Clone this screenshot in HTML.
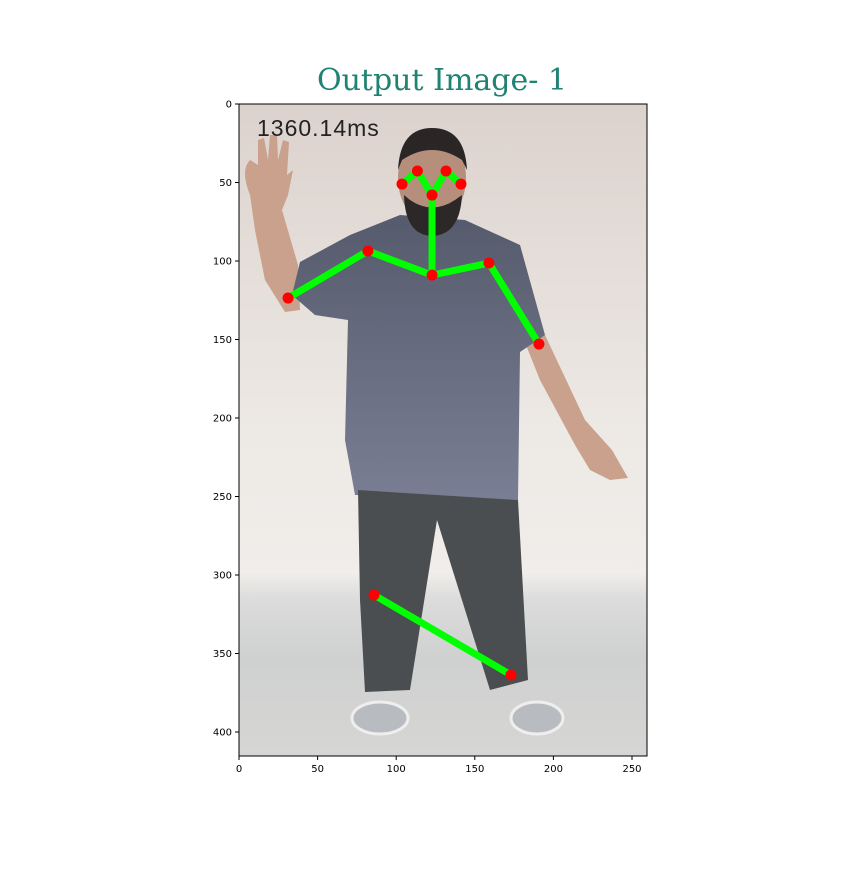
<!DOCTYPE html>
<html><head><meta charset="utf-8"><style>
html,body{margin:0;padding:0;background:#fff;}
svg text{font-family:"DejaVu Sans","Liberation Sans",sans-serif;}
</style></head><body>
<svg id="c" width="864" height="864" viewBox="0 0 864 864" xmlns="http://www.w3.org/2000/svg">
<defs>
<linearGradient id="wall" x1="0" y1="0" x2="0" y2="1">
<stop offset="0" stop-color="#dcd2cd"/><stop offset="0.5" stop-color="#ede9e5"/><stop offset="0.72" stop-color="#f0edea"/><stop offset="0.76" stop-color="#dcdcdc"/><stop offset="0.85" stop-color="#cfd0d0"/><stop offset="1" stop-color="#d6d6d4"/>
</linearGradient>
<linearGradient id="shirt" x1="0" y1="0" x2="0" y2="1">
<stop offset="0" stop-color="#555b6c"/><stop offset="1" stop-color="#7a7e94"/>
</linearGradient>
<clipPath id="clip"><rect x="239" y="104" width="408" height="652"/></clipPath>
</defs>
<text x="442" y="90" text-anchor="middle" font-size="30" fill="#1f8272" style="font-family:'DejaVu Serif','Liberation Serif',serif">Output Image- 1</text>
<g clip-path="url(#clip)">
<rect x="239" y="104" width="408" height="652" fill="url(#wall)"/>
<path d="M250,195 Q240,170 250,160 L258,165 L258,140 L264,138 L268,160 L270,135 L277,135 L278,160 L283,140 L289,142 L287,175 L293,170 L288,195 L282,210 L298,265 L300,310 L285,312 L265,280 L255,230 Z" fill="#c9a18c"/>
<polygon points="520,330 545,335 585,420 612,450 628,478 610,480 590,470 575,445 540,380" fill="#c9a18c"/>
<polygon points="300,262 350,235 400,215 465,220 520,245 545,335 520,352 518,500 355,495 345,440 348,320 315,315 292,295" fill="url(#shirt)"/>
<polygon points="358,490 518,500 528,680 490,690 437,520 410,690 365,692 360,600" fill="#4b4e50"/>
<ellipse cx="432" cy="178" rx="34" ry="46" fill="#b58f7c"/>
<path d="M398,170 Q400,128 432,128 Q465,128 467,170 L462,160 Q432,140 402,160 Z" fill="#2a2626"/>
<path d="M404,195 Q405,235 432,236 Q460,235 462,195 L455,200 Q432,215 410,200 Z" fill="#2c2828"/>
<ellipse cx="380" cy="718" rx="28" ry="16" fill="#b8bcc0" stroke="#eee" stroke-width="3"/>
<ellipse cx="537" cy="718" rx="26" ry="16" fill="#b8bcc0" stroke="#eee" stroke-width="3"/>
<text x="257" y="136" font-size="23" fill="#222" style="font-family:'Liberation Sans',sans-serif;font-weight:300;letter-spacing:1px">1360.14ms</text>
<g id="skel"></g>
</g>
<rect x="239" y="104" width="408" height="652" fill="none" stroke="#000" stroke-width="1"/>
<g id="ax"></g>
</svg>
<script>
const xTicks=[0,50,100,150,200,250];
const yTicks=[0,50,100,150,200,250,300,350,400];
const pointNames=["nose","eye-r","eye-l","ear-r","ear-l","neck","shoulder-r","elbow-r","shoulder-l","elbow-l","hip","knee"];
const pointX=[122.8,113.5,131.7,103.7,141.2,122.8,82,31.2,159,190.8,85.9,173];
const pointY=[58,42.7,42.7,51,51,109,93.6,123.6,101.3,152.9,312.7,363.7];
const edgeFrom=[0,0,1,2,0,5,6,5,8,10];
const edgeTo=[1,2,3,4,5,6,7,8,9,11];
const X=v=>239+v*1.572, Y=v=>104+v*1.57;
const NS="http://www.w3.org/2000/svg";
const skel=document.getElementById('skel'), ax=document.getElementById('ax');
function mk(t,a,p){const e=document.createElementNS(NS,t);for(const k in a)e.setAttribute(k,a[k]);p.appendChild(e);return e;}
edgeFrom.forEach((f,i)=>{const t=edgeTo[i];
const l=mk('line',{x1:X(pointX[f]),y1:Y(pointY[f]),x2:X(pointX[t]),y2:Y(pointY[t]),stroke:'#00ff00','stroke-width':7},skel);

});
pointX.forEach((v,i)=>{const c=mk('circle',{cx:X(v),cy:Y(pointY[i]),r:5.5,fill:'#ff0000'},skel);

});
xTicks.forEach(v=>{const g=mk('g',{},ax);


mk('line',{x1:X(v),x2:X(v),y1:756,y2:760,stroke:'#000'},g);
const t=mk('text',{x:X(v),y:772,'text-anchor':'middle','font-size':10},g);t.textContent=v;});
yTicks.forEach(v=>{const g=mk('g',{},ax);


mk('line',{x1:235,x2:239,y1:Y(v),y2:Y(v),stroke:'#000'},g);
const t=mk('text',{x:232,y:Y(v)+3.5,'text-anchor':'end','font-size':10},g);t.textContent=v;});
</script>
</body></html>
